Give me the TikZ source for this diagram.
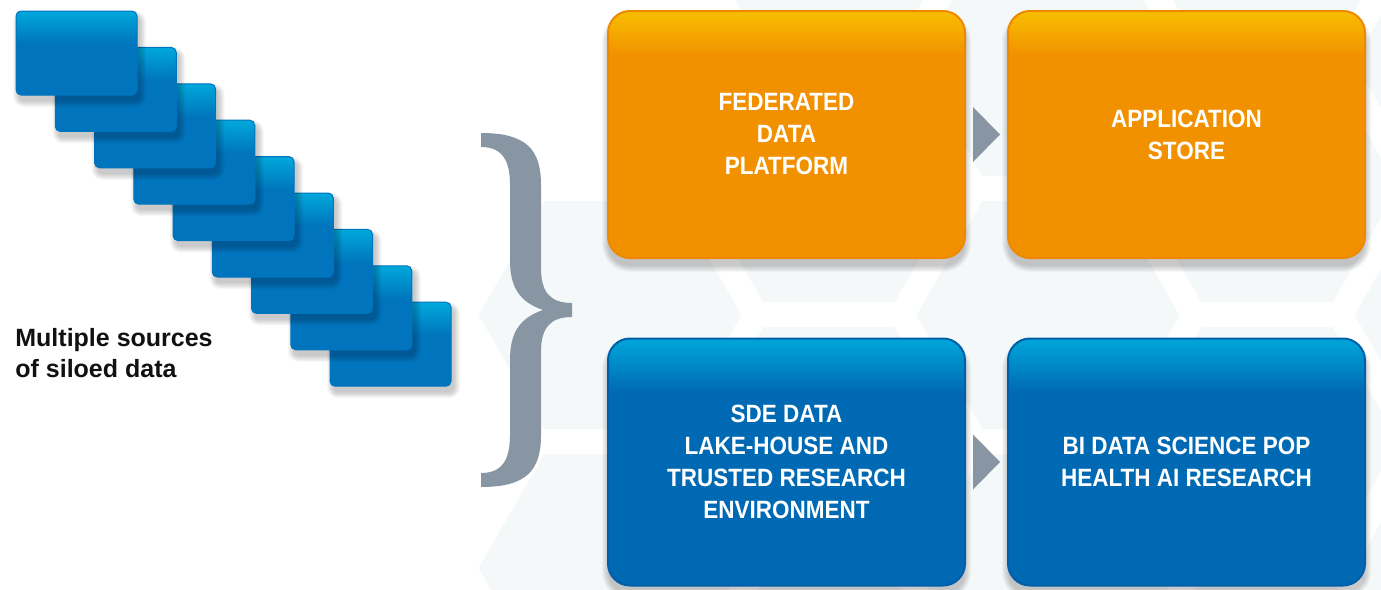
\documentclass[tikz,border=0pt]{standalone}
\usepackage{fontspec}
\setmainfont{Liberation Sans}
\newfontfamily\condfont[FakeStretch=0.9]{Liberation Sans}
\usetikzlibrary{calc}
\definecolor{cardcyan}{HTML}{00A8DC}
\definecolor{cardblue}{HTML}{0074BC}
\definecolor{boxcyan}{HTML}{00A6DA}
\definecolor{boxblue}{HTML}{0069B3}
\definecolor{boxblueedge}{HTML}{005FA8}
\definecolor{oyellow}{HTML}{F8BE00}
\definecolor{oorange}{HTML}{F29100}
\definecolor{oedge}{HTML}{EE8800}
\definecolor{bracegray}{HTML}{8796A2}
\definecolor{hexfill}{HTML}{F5F8F9}
\definecolor{labelblack}{HTML}{111111}
\pgfdeclareverticalshading{cardshade}{100bp}{color(0bp)=(cardblue); color(55bp)=(cardblue); color(75bp)=(cardcyan); color(100bp)=(cardcyan)}
\pgfdeclareverticalshading{orangeshade}{100bp}{color(0bp)=(oorange); color(66bp)=(oorange); color(75bp)=(oyellow); color(100bp)=(oyellow)}
\pgfdeclareverticalshading{blueshade}{100bp}{color(0bp)=(boxblue); color(64bp)=(boxblue); color(75bp)=(boxcyan); color(100bp)=(boxcyan)}
% soft shadow: cx cy w h radius dx dy  (picture units)
\newcommand{\softshade}[7]{%
  \foreach \k in {0,...,6}{%
    \fill[black,opacity=0.03,rounded corners={(#5+\k)*0.5pt}]
      ({#1+#6-#3/2-\k},{#2+#7-#4/2-\k}) rectangle ({#1+#6+#3/2+\k},{#2+#7+#4/2+\k});
  }}
\tikzset{
  card/.style={shading=cardshade, draw=cardblue, line width=0.5pt,
    rounded corners=2.5pt, minimum width=60.5pt, minimum height=42pt, inner sep=0pt},
  obox/.style={shading=orangeshade, draw=oedge, line width=1pt,
    rounded corners=11pt, minimum width=178.5pt, minimum height=123.5pt,
    inner sep=0pt, align=center, text=white,
    font=\condfont\bfseries\fontsize{12.5}{16}\selectfont},
  bbox/.style={obox, shading=blueshade, draw=boxblueedge},
  tri/.style={fill=bracegray},
  hexcell/.style={fill=hexfill, draw=white, line width=3pt},
  lbl/.style={inner sep=0pt, align=left, text=labelblack,
    font=\bfseries\fontsize{12.5}{15.5}\selectfont}
}
\begin{document}
\begin{tikzpicture}[x=0.5pt,y=-0.5pt]
\useasboundingbox (0,0) rectangle (1381,589);
\fill[white] (0,0) rectangle (1381,589);
% faint honeycomb background
\begin{scope}
\clip (470,0) rectangle (1381,589);
\foreach \cx/\cy in {610/315,610/568,829/-65,829/188,829/441,829/694,
  1048/62,1048/315,1048/568,1267/-65,1267/188,1267/441,1267/694,1486/62,1486/315,1486/568}{
  \draw[hexcell] ({\cx+135},\cy) -- ({\cx+67.5},{\cy+117}) -- ({\cx-67.5},{\cy+117})
    -- ({\cx-135},\cy) -- ({\cx-67.5},{\cy-117}) -- ({\cx+67.5},{\cy-117}) -- cycle;
}
\end{scope}
% stacked cards (front card is the top-left one)
\foreach \i in {8,7,...,0}{
  \pgfmathsetmacro{\cx}{76.5+39.25*\i}
  \pgfmathsetmacro{\cy}{53+36.4*\i}
  \softshade{\cx}{\cy}{121}{84}{5}{3}{6}
  \node[card] (c\i) at (\cx,\cy) {};
}
\node[lbl, anchor=west] (src) at (15,353) {Multiple sources\\of siloed data};
% brace
\fill[bracegray] (481,133) .. controls (527,133) and (541,150) .. (541,185)
  -- (541,268) .. controls (541,292) and (550,303) .. (572,303)
  -- (572,317) .. controls (550,317) and (541,328) .. (541,352)
  -- (541,435) .. controls (541,470) and (527,487) .. (481,487)
  -- (481,473) .. controls (502,473) and (510,460) .. (510,435)
  -- (510,360) .. controls (510,332) and (520,318) .. (543,310)
  .. controls (520,302) and (510,288) .. (510,260)
  -- (510,185) .. controls (510,160) and (502,147) .. (481,147) -- cycle;
% box shadows
\softshade{786.5}{134.5}{357}{247}{22}{0}{8}
\softshade{1186.5}{134.5}{357}{247}{22}{0}{8}
\softshade{786.5}{462}{357}{248}{22}{0}{8}
\softshade{1186.5}{462}{357}{248}{22}{0}{8}
% boxes
\node[obox] (fdp) at (786.5,134.5) {FEDERATED\\DATA\\PLATFORM};
\node[obox] (app) at (1186.5,134.5) {APPLICATION\\STORE};
\node[bbox] (sde) at (786.5,462) {SDE DATA\\LAKE-HOUSE AND\\TRUSTED RESEARCH\\ENVIRONMENT};
\node[bbox] (bi) at (1186.5,462) {BI DATA SCIENCE POP\\HEALTH AI RESEARCH};
% arrows between boxes
\coordinate (a1) at ($(fdp.east)!0.5!(app.west)$);
\coordinate (a2) at ($(sde.east)!0.5!(bi.west)$);
\fill[tri] ($(a1)+(-13.5,-27.5)$) -- ($(a1)+(13.5,0)$) -- ($(a1)+(-13.5,27.5)$) -- cycle;
\fill[tri] ($(a2)+(-13.5,-27.5)$) -- ($(a2)+(13.5,0)$) -- ($(a2)+(-13.5,27.5)$) -- cycle;
\end{tikzpicture}
\end{document}
